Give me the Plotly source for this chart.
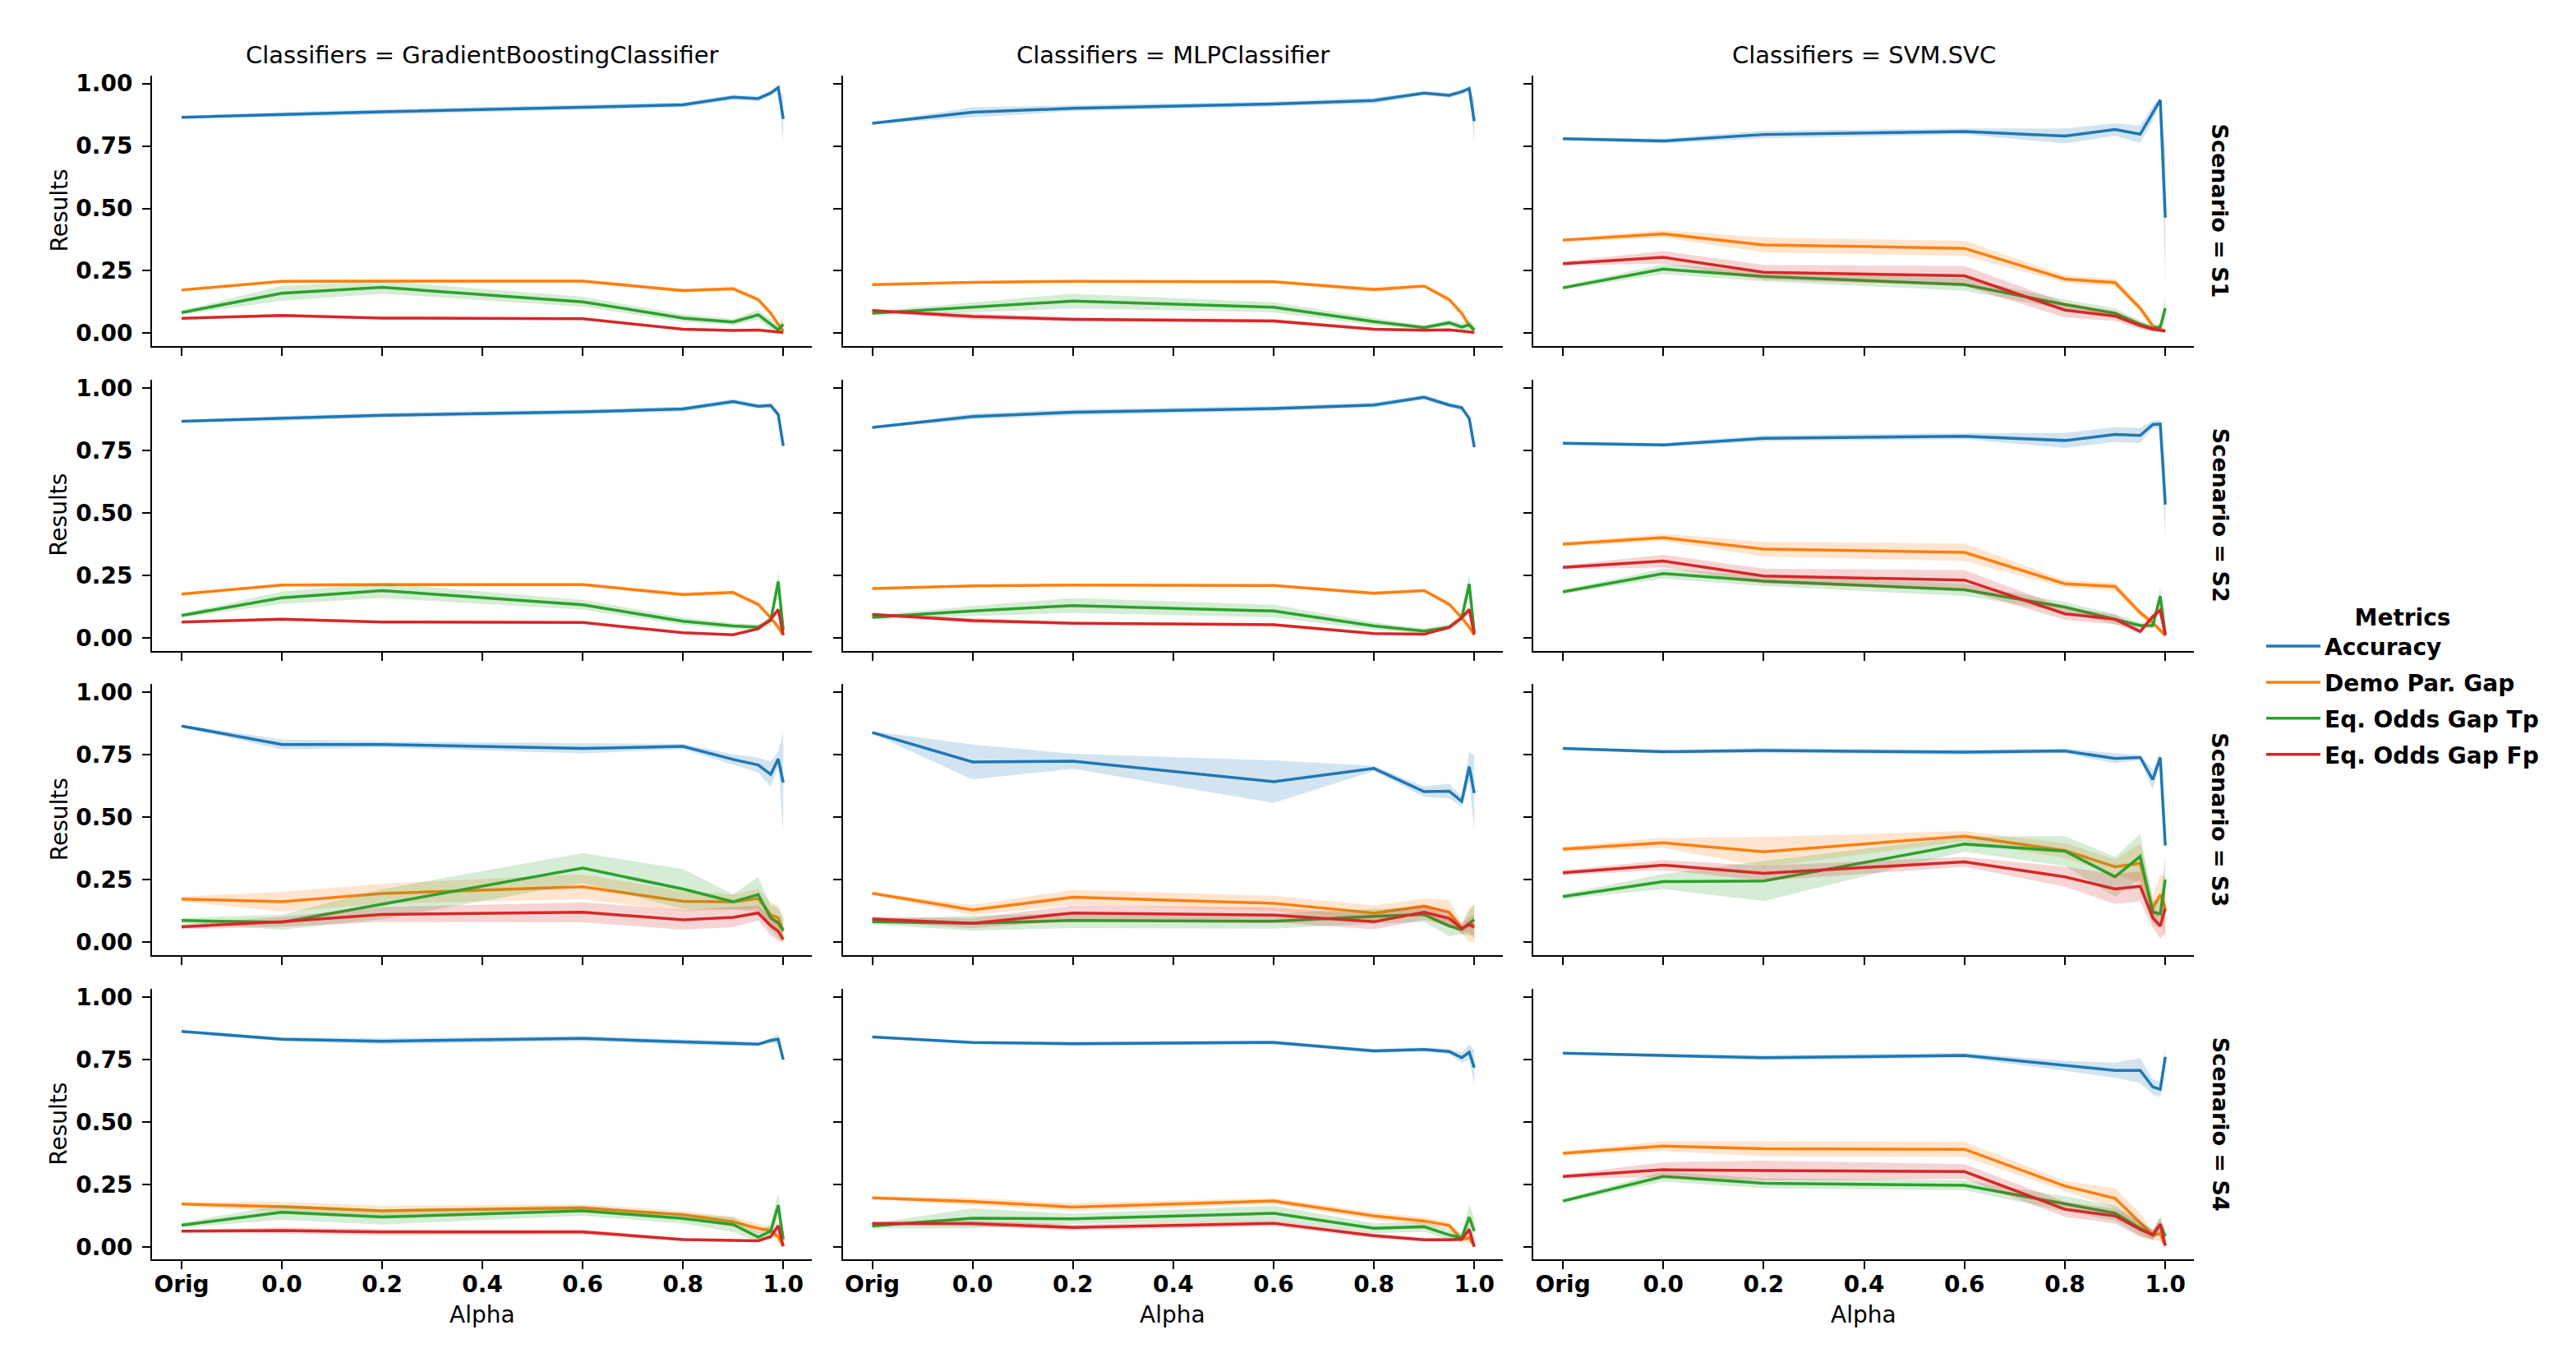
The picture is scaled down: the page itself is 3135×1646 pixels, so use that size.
import plotly.graph_objects as go

# ---------------- data ----------------
ALPHA = [-0.2, 0.0, 0.2, 0.6, 0.8, 0.9, 0.95, 0.975, 0.99, 1.0]   # -0.2 == "Orig"
X_TICK_VALS = [-0.2, 0.0, 0.2, 0.4, 0.6, 0.8, 1.0]
X_TICK_TEXT = ["Orig", "0.0", "0.2", "0.4", "0.6", "0.8", "1.0"]
Y_TICK_VALS = [0.0, 0.25, 0.5, 0.75, 1.0]
Y_TICK_TEXT = ["0.00", "0.25", "0.50", "0.75", "1.00"]

CLASSIFIERS = ["GradientBoostingClassifier", "MLPClassifier", "SVM.SVC"]
SCENARIOS = ["S1", "S2", "S3", "S4"]
METRICS = ["Accuracy", "Demo Par. Gap", "Eq. Odds Gap Tp", "Eq. Odds Gap Fp"]

# --- GradientBoostingClassifier ---
GB_S1_ACC = [0.865, 0.876, 0.887, 0.905, 0.915, 0.945, 0.940, 0.962, 0.984, 0.858]
GB_S1_ACC_CI = [0.004, 0.010, 0.010, 0.010, 0.010, 0.010, 0.010, 0.010, 0.010, 0.090]
GB_S1_DP = [0.173, 0.208, 0.209, 0.209, 0.171, 0.178, 0.135, 0.080, 0.036, 0.009]
GB_S1_DP_CI = [0.005, 0.006, 0.006, 0.006, 0.008, 0.008, 0.010, 0.010, 0.010, 0.010]
GB_S1_TP = [0.083, 0.160, 0.184, 0.126, 0.061, 0.045, 0.074, 0.036, 0.014, 0.036]
GB_S1_TP_CI = [0.008, 0.030, 0.025, 0.020, 0.015, 0.012, 0.020, 0.020, 0.020, 0.030]
GB_S1_FP = [0.060, 0.071, 0.061, 0.058, 0.016, 0.011, 0.013, 0.009, 0.005, 0.003]
GB_S1_FP_CI = [0.004, 0.006, 0.005, 0.005, 0.005, 0.004, 0.004, 0.004, 0.004, 0.003]

GB_S2_ACC = [0.867, 0.878, 0.891, 0.905, 0.916, 0.946, 0.927, 0.930, 0.894, 0.768]
GB_S2_ACC_CI = [0.004, 0.010, 0.010, 0.010, 0.010, 0.010, 0.010, 0.010, 0.010, 0.020]
GB_S2_DP = [0.175, 0.211, 0.213, 0.213, 0.173, 0.181, 0.134, 0.080, 0.042, 0.011]
GB_S2_DP_CI = [0.005, 0.006, 0.006, 0.006, 0.008, 0.008, 0.010, 0.010, 0.010, 0.010]
GB_S2_TP = [0.089, 0.160, 0.189, 0.132, 0.066, 0.047, 0.042, 0.069, 0.225, 0.030]
GB_S2_TP_CI = [0.008, 0.025, 0.030, 0.020, 0.015, 0.012, 0.012, 0.020, 0.040, 0.030]
GB_S2_FP = [0.063, 0.074, 0.063, 0.061, 0.020, 0.012, 0.036, 0.074, 0.113, 0.011]
GB_S2_FP_CI = [0.004, 0.006, 0.005, 0.005, 0.005, 0.004, 0.006, 0.008, 0.010, 0.005]

GB_S3_ACC = [0.866, 0.792, 0.792, 0.776, 0.784, 0.732, 0.710, 0.672, 0.734, 0.639]
GB_S3_ACC_CI = [0.005, 0.020, 0.012, 0.020, 0.010, 0.020, 0.030, 0.050, 0.030, 0.200]
GB_S3_DP = [0.173, 0.162, 0.195, 0.222, 0.164, 0.161, 0.175, 0.110, 0.098, 0.044]
GB_S3_DP_CI = [0.010, 0.040, 0.040, 0.050, 0.040, 0.030, 0.040, 0.050, 0.050, 0.050]
GB_S3_TP = [0.087, 0.080, 0.152, 0.297, 0.213, 0.162, 0.191, 0.098, 0.077, 0.049]
GB_S3_TP_CI = [0.010, 0.030, 0.060, 0.060, 0.080, 0.030, 0.070, 0.050, 0.060, 0.050]
GB_S3_FP = [0.062, 0.082, 0.111, 0.120, 0.090, 0.100, 0.117, 0.066, 0.044, 0.011]
GB_S3_FP_CI = [0.010, 0.020, 0.030, 0.040, 0.040, 0.040, 0.030, 0.040, 0.040, 0.020]

GB_S4_ACC = [0.862, 0.831, 0.823, 0.834, 0.820, 0.815, 0.811, 0.826, 0.831, 0.749]
GB_S4_ACC_CI = [0.004, 0.008, 0.012, 0.010, 0.010, 0.010, 0.008, 0.010, 0.020, 0.010]
GB_S4_DP = [0.171, 0.160, 0.144, 0.155, 0.128, 0.100, 0.073, 0.065, 0.040, 0.002]
GB_S4_DP_CI = [0.006, 0.020, 0.020, 0.015, 0.015, 0.020, 0.020, 0.015, 0.020, 0.005]
GB_S4_TP = [0.086, 0.138, 0.119, 0.144, 0.113, 0.089, 0.038, 0.062, 0.166, 0.029]
GB_S4_TP_CI = [0.010, 0.030, 0.030, 0.020, 0.020, 0.030, 0.020, 0.030, 0.050, 0.030]
GB_S4_FP = [0.062, 0.065, 0.059, 0.059, 0.029, 0.024, 0.024, 0.040, 0.084, 0.002]
GB_S4_FP_CI = [0.005, 0.012, 0.012, 0.010, 0.006, 0.005, 0.005, 0.008, 0.015, 0.004]

# --- MLPClassifier ---
MLP_S1_ACC = [0.841, 0.885, 0.901, 0.918, 0.932, 0.962, 0.953, 0.967, 0.980, 0.849]
MLP_S1_ACC_CI = [0.004, 0.020, 0.012, 0.010, 0.012, 0.008, 0.010, 0.010, 0.010, 0.085]
MLP_S1_DP = [0.195, 0.204, 0.208, 0.206, 0.175, 0.189, 0.135, 0.080, 0.031, 0.014]
MLP_S1_DP_CI = [0.004, 0.005, 0.005, 0.006, 0.010, 0.006, 0.010, 0.010, 0.010, 0.010]
MLP_S1_TP = [0.080, 0.104, 0.129, 0.104, 0.047, 0.023, 0.042, 0.025, 0.034, 0.012]
MLP_S1_TP_CI = [0.008, 0.020, 0.030, 0.020, 0.015, 0.008, 0.012, 0.015, 0.020, 0.020]
MLP_S1_FP = [0.091, 0.067, 0.056, 0.049, 0.016, 0.012, 0.014, 0.009, 0.005, 0.003]
MLP_S1_FP_CI = [0.005, 0.012, 0.008, 0.008, 0.006, 0.005, 0.005, 0.004, 0.004, 0.003]

MLP_S2_ACC = [0.842, 0.886, 0.903, 0.918, 0.932, 0.963, 0.932, 0.921, 0.878, 0.763]
MLP_S2_ACC_CI = [0.004, 0.012, 0.012, 0.010, 0.010, 0.010, 0.010, 0.010, 0.010, 0.015]
MLP_S2_DP = [0.197, 0.208, 0.211, 0.209, 0.178, 0.189, 0.134, 0.080, 0.042, 0.011]
MLP_S2_DP_CI = [0.004, 0.005, 0.005, 0.005, 0.008, 0.006, 0.010, 0.010, 0.010, 0.010]
MLP_S2_TP = [0.082, 0.107, 0.129, 0.107, 0.047, 0.027, 0.042, 0.080, 0.215, 0.020]
MLP_S2_TP_CI = [0.008, 0.020, 0.030, 0.025, 0.015, 0.010, 0.012, 0.020, 0.040, 0.020]
MLP_S2_FP = [0.093, 0.069, 0.058, 0.052, 0.017, 0.014, 0.042, 0.080, 0.113, 0.014]
MLP_S2_FP_CI = [0.005, 0.010, 0.006, 0.006, 0.005, 0.004, 0.006, 0.008, 0.012, 0.006]

MLP_S3_ACC = [0.840, 0.722, 0.725, 0.643, 0.696, 0.603, 0.605, 0.564, 0.703, 0.597]
MLP_S3_ACC_CI = [0.005, 0.070, 0.030, 0.085, 0.010, 0.020, 0.030, 0.020, 0.060, 0.150]
MLP_S3_DP = [0.196, 0.129, 0.180, 0.156, 0.117, 0.145, 0.120, 0.055, 0.070, 0.070]
MLP_S3_DP_CI = [0.005, 0.020, 0.030, 0.030, 0.030, 0.030, 0.050, 0.020, 0.070, 0.080]
MLP_S3_TP = [0.082, 0.076, 0.087, 0.084, 0.104, 0.111, 0.065, 0.051, 0.076, 0.090]
MLP_S3_TP_CI = [0.010, 0.030, 0.030, 0.030, 0.030, 0.030, 0.040, 0.020, 0.050, 0.060]
MLP_S3_FP = [0.093, 0.076, 0.117, 0.109, 0.082, 0.120, 0.095, 0.055, 0.070, 0.060]
MLP_S3_FP_CI = [0.010, 0.020, 0.030, 0.030, 0.030, 0.030, 0.030, 0.020, 0.030, 0.050]

MLP_S4_ACC = [0.840, 0.818, 0.813, 0.818, 0.784, 0.790, 0.782, 0.757, 0.779, 0.717]
MLP_S4_ACC_CI = [0.004, 0.006, 0.008, 0.008, 0.008, 0.008, 0.010, 0.020, 0.030, 0.070]
MLP_S4_DP = [0.196, 0.181, 0.159, 0.183, 0.123, 0.103, 0.085, 0.030, 0.036, 0.003]
MLP_S4_DP_CI = [0.006, 0.015, 0.015, 0.012, 0.015, 0.015, 0.015, 0.015, 0.020, 0.005]
MLP_S4_TP = [0.083, 0.114, 0.112, 0.134, 0.074, 0.080, 0.047, 0.036, 0.118, 0.063]
MLP_S4_TP_CI = [0.010, 0.040, 0.020, 0.030, 0.020, 0.020, 0.020, 0.020, 0.050, 0.050]
MLP_S4_FP = [0.093, 0.093, 0.077, 0.094, 0.044, 0.028, 0.028, 0.030, 0.069, 0.000]
MLP_S4_FP_CI = [0.008, 0.012, 0.012, 0.012, 0.010, 0.008, 0.008, 0.008, 0.015, 0.003]

# --- SVM.SVC ---
SVC_S1_ACC = [0.779, 0.770, 0.796, 0.808, 0.790, 0.816, 0.797, 0.880, 0.934, 0.463]
SVC_S1_ACC_CI = [0.006, 0.010, 0.015, 0.012, 0.030, 0.025, 0.035, 0.030, 0.010, 0.270]
SVC_S1_DP = [0.373, 0.398, 0.354, 0.340, 0.217, 0.203, 0.100, 0.030, 0.015, 0.009]
SVC_S1_DP_CI = [0.008, 0.015, 0.030, 0.030, 0.015, 0.015, 0.015, 0.012, 0.010, 0.008]
SVC_S1_TP = [0.182, 0.257, 0.228, 0.195, 0.115, 0.080, 0.036, 0.020, 0.025, 0.100]
SVC_S1_TP_CI = [0.008, 0.020, 0.020, 0.025, 0.020, 0.020, 0.015, 0.010, 0.015, 0.050]
SVC_S1_FP = [0.279, 0.304, 0.244, 0.230, 0.093, 0.069, 0.031, 0.016, 0.012, 0.009]
SVC_S1_FP_CI = [0.008, 0.025, 0.030, 0.040, 0.030, 0.020, 0.015, 0.010, 0.008, 0.006]

SVC_S2_ACC = [0.779, 0.772, 0.799, 0.807, 0.790, 0.814, 0.810, 0.854, 0.856, 0.533]
SVC_S2_ACC_CI = [0.006, 0.008, 0.012, 0.012, 0.030, 0.030, 0.030, 0.015, 0.015, 0.150]
SVC_S2_DP = [0.375, 0.401, 0.355, 0.342, 0.216, 0.205, 0.100, 0.060, 0.030, 0.009]
SVC_S2_DP_CI = [0.008, 0.015, 0.030, 0.035, 0.015, 0.015, 0.015, 0.012, 0.010, 0.008]
SVC_S2_TP = [0.184, 0.257, 0.227, 0.192, 0.123, 0.074, 0.049, 0.049, 0.167, 0.014]
SVC_S2_TP_CI = [0.008, 0.020, 0.020, 0.025, 0.020, 0.020, 0.012, 0.012, 0.035, 0.010]
SVC_S2_FP = [0.282, 0.307, 0.247, 0.231, 0.096, 0.074, 0.025, 0.085, 0.110, 0.010]
SVC_S2_FP_CI = [0.008, 0.025, 0.030, 0.040, 0.025, 0.020, 0.010, 0.010, 0.020, 0.008]

SVC_S3_ACC = [0.776, 0.763, 0.768, 0.761, 0.766, 0.736, 0.740, 0.651, 0.740, 0.387]
SVC_S3_ACC_CI = [0.005, 0.008, 0.010, 0.010, 0.010, 0.020, 0.010, 0.040, 0.020, 0.020]
SVC_S3_DP = [0.373, 0.398, 0.362, 0.425, 0.367, 0.302, 0.316, 0.136, 0.190, 0.136]
SVC_S3_DP_CI = [0.010, 0.020, 0.060, 0.020, 0.030, 0.030, 0.080, 0.050, 0.080, 0.130]
SVC_S3_TP = [0.183, 0.243, 0.245, 0.393, 0.365, 0.262, 0.344, 0.120, 0.114, 0.251]
SVC_S3_TP_CI = [0.010, 0.030, 0.080, 0.030, 0.060, 0.080, 0.090, 0.050, 0.060, 0.100]
SVC_S3_FP = [0.278, 0.309, 0.276, 0.322, 0.262, 0.213, 0.224, 0.098, 0.065, 0.136]
SVC_S3_FP_CI = [0.010, 0.020, 0.030, 0.020, 0.040, 0.060, 0.060, 0.040, 0.050, 0.100]

SVC_S4_ACC = [0.775, 0.766, 0.757, 0.766, 0.725, 0.706, 0.706, 0.640, 0.630, 0.760]
SVC_S4_ACC_CI = [0.004, 0.008, 0.010, 0.010, 0.020, 0.030, 0.050, 0.030, 0.030, 0.040]
SVC_S4_DP = [0.374, 0.403, 0.392, 0.390, 0.243, 0.194, 0.096, 0.047, 0.052, 0.003]
SVC_S4_DP_CI = [0.008, 0.020, 0.030, 0.030, 0.020, 0.040, 0.040, 0.020, 0.030, 0.020]
SVC_S4_TP = [0.183, 0.281, 0.254, 0.246, 0.172, 0.134, 0.074, 0.047, 0.090, 0.041]
SVC_S4_TP_CI = [0.008, 0.020, 0.020, 0.020, 0.030, 0.030, 0.030, 0.020, 0.030, 0.030]
SVC_S4_FP = [0.281, 0.308, 0.305, 0.301, 0.150, 0.123, 0.069, 0.047, 0.090, 0.005]
SVC_S4_FP_CI = [0.008, 0.030, 0.040, 0.030, 0.030, 0.030, 0.030, 0.020, 0.030, 0.020]

# lookup table built from the named arrays
PANELS = {
    ("GradientBoostingClassifier", "S1"): [(GB_S1_ACC, GB_S1_ACC_CI), (GB_S1_DP, GB_S1_DP_CI), (GB_S1_TP, GB_S1_TP_CI), (GB_S1_FP, GB_S1_FP_CI)],
    ("GradientBoostingClassifier", "S2"): [(GB_S2_ACC, GB_S2_ACC_CI), (GB_S2_DP, GB_S2_DP_CI), (GB_S2_TP, GB_S2_TP_CI), (GB_S2_FP, GB_S2_FP_CI)],
    ("GradientBoostingClassifier", "S3"): [(GB_S3_ACC, GB_S3_ACC_CI), (GB_S3_DP, GB_S3_DP_CI), (GB_S3_TP, GB_S3_TP_CI), (GB_S3_FP, GB_S3_FP_CI)],
    ("GradientBoostingClassifier", "S4"): [(GB_S4_ACC, GB_S4_ACC_CI), (GB_S4_DP, GB_S4_DP_CI), (GB_S4_TP, GB_S4_TP_CI), (GB_S4_FP, GB_S4_FP_CI)],
    ("MLPClassifier", "S1"): [(MLP_S1_ACC, MLP_S1_ACC_CI), (MLP_S1_DP, MLP_S1_DP_CI), (MLP_S1_TP, MLP_S1_TP_CI), (MLP_S1_FP, MLP_S1_FP_CI)],
    ("MLPClassifier", "S2"): [(MLP_S2_ACC, MLP_S2_ACC_CI), (MLP_S2_DP, MLP_S2_DP_CI), (MLP_S2_TP, MLP_S2_TP_CI), (MLP_S2_FP, MLP_S2_FP_CI)],
    ("MLPClassifier", "S3"): [(MLP_S3_ACC, MLP_S3_ACC_CI), (MLP_S3_DP, MLP_S3_DP_CI), (MLP_S3_TP, MLP_S3_TP_CI), (MLP_S3_FP, MLP_S3_FP_CI)],
    ("MLPClassifier", "S4"): [(MLP_S4_ACC, MLP_S4_ACC_CI), (MLP_S4_DP, MLP_S4_DP_CI), (MLP_S4_TP, MLP_S4_TP_CI), (MLP_S4_FP, MLP_S4_FP_CI)],
    ("SVM.SVC", "S1"): [(SVC_S1_ACC, SVC_S1_ACC_CI), (SVC_S1_DP, SVC_S1_DP_CI), (SVC_S1_TP, SVC_S1_TP_CI), (SVC_S1_FP, SVC_S1_FP_CI)],
    ("SVM.SVC", "S2"): [(SVC_S2_ACC, SVC_S2_ACC_CI), (SVC_S2_DP, SVC_S2_DP_CI), (SVC_S2_TP, SVC_S2_TP_CI), (SVC_S2_FP, SVC_S2_FP_CI)],
    ("SVM.SVC", "S3"): [(SVC_S3_ACC, SVC_S3_ACC_CI), (SVC_S3_DP, SVC_S3_DP_CI), (SVC_S3_TP, SVC_S3_TP_CI), (SVC_S3_FP, SVC_S3_FP_CI)],
    ("SVM.SVC", "S4"): [(SVC_S4_ACC, SVC_S4_ACC_CI), (SVC_S4_DP, SVC_S4_DP_CI), (SVC_S4_TP, SVC_S4_TP_CI), (SVC_S4_FP, SVC_S4_FP_CI)],
}

# ---------------- style / layout ----------------
W, H = 3135, 1646
FONT = "DejaVu Sans"
LINE_COLORS = ["#1f77b4", "#ff7f0e", "#2ca02c", "#d62728"]
BAND_COLORS = ["rgba(31,119,180,0.2)", "rgba(255,127,14,0.2)",
               "rgba(44,160,44,0.2)", "rgba(214,39,40,0.2)"]
COL_PX = [(185, 988), (1025.5, 1829), (1866, 2670)]
ROW_TOP_PX = [86, 458, 830, 1202]
ROW_H_PX = 331
X_RANGE = [-0.259, 1.057]
Y_RANGE = [-0.052, 1.033]

fig = go.Figure()
annotations = []

for r, sc in enumerate(SCENARIOS):
    for c, cl in enumerate(CLASSIFIERS):
        idx = r * 3 + c + 1
        sfx = "" if idx == 1 else str(idx)
        xref, yref = "x" + sfx, "y" + sfx
        for m, (name, lc, bc) in enumerate(zip(METRICS, LINE_COLORS, BAND_COLORS)):
            mean, ci = PANELS[(cl, sc)][m]
            hi = [a + b for a, b in zip(mean, ci)]
            lo = [max(0.0, a - b) for a, b in zip(mean, ci)]
            fig.add_trace(go.Scatter(
                x=ALPHA + ALPHA[::-1], y=hi + lo[::-1], fill="toself",
                fillcolor=bc, line=dict(width=0), mode="lines",
                hoverinfo="skip", showlegend=False, xaxis=xref, yaxis=yref))
            fig.add_trace(go.Scatter(
                x=ALPHA, y=mean, mode="lines", name=name, legendgroup=name,
                line=dict(color=lc, width=3.5), showlegend=(idx == 1),
                xaxis=xref, yaxis=yref))

        x0, x1 = COL_PX[c]
        top = ROW_TOP_PX[r]
        common = dict(showline=True, linecolor="black", linewidth=2,
                      ticks="outside", ticklen=10, tickwidth=2, tickcolor="black",
                      showgrid=False, zeroline=False,
                      tickfont=dict(family=FONT, size=28, color="black", weight="bold"))
        fig.layout["xaxis" + sfx] = dict(
            domain=[x0 / W, x1 / W], range=X_RANGE, anchor=yref,
            tickvals=X_TICK_VALS, ticktext=X_TICK_TEXT, ticklabelstandoff=-6,
            showticklabels=(r == len(SCENARIOS) - 1), **common)
        fig.layout["yaxis" + sfx] = dict(
            domain=[1 - (top + ROW_H_PX) / H, 1 - top / H], range=Y_RANGE, anchor=xref,
            tickvals=Y_TICK_VALS, ticktext=Y_TICK_TEXT, ticklabelstandoff=6,
            showticklabels=(c == 0), **common)

# column titles
for c, cl in enumerate(CLASSIFIERS):
    cx = (COL_PX[c][0] + COL_PX[c][1]) / 2 / W
    annotations.append(dict(text="Classifiers = " + cl, x=cx, y=1 - 61 / H,
                            xref="paper", yref="paper", showarrow=False,
                            xanchor="center", yanchor="middle",
                            font=dict(family=FONT, size=29, color="black")))
    annotations.append(dict(text="Alpha", x=cx, y=1 - 1600 / H,
                            xref="paper", yref="paper", showarrow=False,
                            xanchor="center", yanchor="middle",
                            font=dict(family=FONT, size=28, color="black")))
# row titles and y labels
for r, sc in enumerate(SCENARIOS):
    cy = 1 - (ROW_TOP_PX[r] + ROW_H_PX / 2) / H
    annotations.append(dict(text="Scenario = " + sc, x=2702 / W, y=cy,
                            xref="paper", yref="paper", showarrow=False, textangle=90,
                            xanchor="center", yanchor="middle",
                            font=dict(family=FONT, size=27, color="black", weight="bold")))
    annotations.append(dict(text="Results", x=72 / W, y=cy,
                            xref="paper", yref="paper", showarrow=False, textangle=-90,
                            xanchor="center", yanchor="middle",
                            font=dict(family=FONT, size=28, color="black")))

fig.update_layout(
    width=W, height=H,
    margin=dict(l=0, r=0, t=0, b=0),
    paper_bgcolor="white", plot_bgcolor="white",
    font=dict(family=FONT, color="black"),
    annotations=annotations,
    showlegend=True,
    legend=dict(
        x=2753 / W, y=1 - 722 / H, xanchor="left", yanchor="top",
        title=dict(text="Metrics", side="top center",
                   font=dict(family=FONT, size=28, color="black", weight="bold")),
        font=dict(family=FONT, size=28, color="black", weight="bold"),
        bgcolor="rgba(0,0,0,0)", itemwidth=66, tracegroupgap=4.5,
    ),
)

fig.write_html("out.html", config={"displayModeBar": False},
               post_script="document.body.style.margin='0';document.body.style.overflow='hidden';")
